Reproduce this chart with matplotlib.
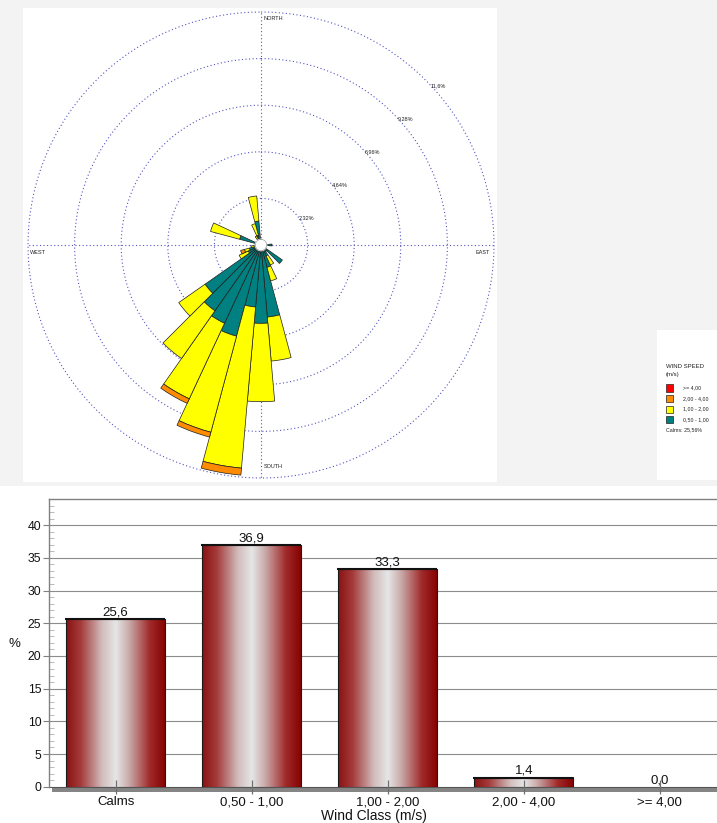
import numpy as np
import matplotlib
matplotlib.use('Agg')
import matplotlib.pyplot as plt
from matplotlib.patches import Rectangle
from matplotlib.colors import LinearSegmentedColormap
from matplotlib.ticker import MultipleLocator
from matplotlib.transforms import blended_transform_factory

plt.rcParams['font.family'] = ['Liberation Sans', 'DejaVu Sans']

# ---------------- data ----------------
directions = list(range(0, 360, 10))
# percent of all observations per direction and wind-speed class
speed_050_100 = [0.25, 0.1, 0.05, 0.05, 0.05, 0.05, 0.05, 0.1, 0.15,
                 0.55, 0.2, 0.2, 0.3, 1.3, 0.4, 0.6, 1.15, 3.6,
                 3.9, 3.1, 4.7, 4.3, 4.0, 3.4, 0.7, 0.6, 0.3, 0.2,
                 0.3, 1.1, 0.3, 0.2, 0.2, 0.3, 0.5, 1.2]
speed_100_200 = [0, 0, 0, 0, 0, 0, 0, 0, 0,
                 0, 0, 0, 0, 0, 0, 0.5, 0.7, 2.2,
                 3.9, 8.05, 4.95, 4.15, 2.9, 1.6, 0.5, 0.25, 0.2, 0,
                 0, 1.5, 0, 0, 0, 0.2, 0.6, 1.25]
speed_200_400 = [0, 0, 0, 0, 0, 0, 0, 0, 0,
                 0, 0, 0, 0, 0, 0, 0, 0, 0,
                 0, 0.35, 0.25, 0.25, 0, 0, 0, 0.2, 0, 0,
                 0, 0, 0, 0, 0, 0, 0, 0]
speed_ge_400 = [0] * 36

ring_values = [2.32, 4.64, 6.96, 9.28, 11.6]
ring_labels = ['2,32%', '4,64%', '6,96%', '9,28%', '11,6%']
legend_labels = ['>= 4,00', '2,00 - 4,00', '1,00 - 2,00', '0,50 - 1,00']
legend_colors = ['#ff0000', '#ff8c00', '#ffff00', '#008080']
calms_text = 'Calms: 25,56%'

wind_classes = ['Calms', '0,50 - 1,00', '1,00 - 2,00', '2,00 - 4,00', '>= 4,00']
class_percent = [25.6, 36.9, 33.3, 1.4, 0.0]

# ---------------- figure ----------------
W, H = 717, 823
fig = plt.figure(figsize=(W / 100, H / 100), dpi=100, facecolor='white')


def fx(x):
    return x / W


def fy(y):
    return 1 - y / H


def frect(x0, y0, x1, y1, **kw):
    fig.patches.append(Rectangle((fx(x0), fy(y1)), fx(x1) - fx(x0), fy(y0) - fy(y1),
                                 transform=fig.transFigure, **kw))


frect(0, 0, W, 486, facecolor='#f3f3f3', edgecolor='none', zorder=-3)
frect(23, 8, 497, 482, facecolor='white', edgecolor='none', zorder=-2)
frect(657, 330, W, 480, facecolor='white', edgecolor='none', zorder=-2)

# ---------------- wind rose ----------------
cx, cy, R = 261, 245, 233
ax = fig.add_axes([fx(cx - R), fy(cy + R), 2 * R / W, 2 * R / H], projection='polar')
ax.set_theta_zero_location('N')
ax.set_theta_direction(-1)
ax.set_ylim(0, ring_values[-1])
ax.set_axis_off()

grid_col = '#5555c0'
tt = np.linspace(0, 2 * np.pi, 721)
for r in ring_values:
    ax.plot(tt, np.full_like(tt, r), ls=(0, (1, 2.2)), color=grid_col, lw=0.8, clip_on=False, zorder=1)
for t in [0, np.pi / 2, np.pi, 3 * np.pi / 2]:
    ax.plot([t, t], [0, ring_values[-1]], ls=(0, (1, 2.2)), color=grid_col, lw=0.8, clip_on=False, zorder=1)

theta = np.deg2rad(directions)
width = np.deg2rad(10)
bottom = np.zeros(len(directions))
for vals, col in [(speed_050_100, '#008080'), (speed_100_200, '#ffff00'),
                  (speed_200_400, '#ff8c00'), (speed_ge_400, '#ff0000')]:
    v = np.array(vals, dtype=float)
    m = v > 0
    if m.any():
        ax.bar(theta[m], v[m], width=width, bottom=bottom[m], color=col,
               edgecolor='#1e1e1e', linewidth=0.5, zorder=3)
    bottom = bottom + v

ax.fill(tt, np.full_like(tt, 0.28), color='white', zorder=5)
ax.plot(tt, np.full_like(tt, 0.28), color='#9a9a9a', lw=0.5, zorder=6)

for r, lab in zip(ring_values, ring_labels):
    ax.annotate(lab, xy=(np.pi / 4, r), xytext=(3.6, -4.3), textcoords='offset points',
                fontsize=4, ha='left', va='center', color='#222222', zorder=7)

fig.text(fx(264), fy(19), 'NORTH', fontsize=4, ha='left', va='center', color='#222222')
fig.text(fx(264), fy(466), 'SOUTH', fontsize=4, ha='left', va='center', color='#222222')
fig.text(fx(30), fy(252), 'WEST', fontsize=4, ha='left', va='center', color='#222222')
fig.text(fx(475), fy(252), 'EAST', fontsize=4, ha='left', va='center', color='#222222')

# legend
fig.text(fx(666), fy(366), 'WIND SPEED', fontsize=4.3, ha='left', va='center', color='#222222')
fig.text(fx(666), fy(375), '(m/s)', fontsize=4.3, ha='left', va='center', color='#222222')
for i, (lab, col) in enumerate(zip(legend_labels, legend_colors)):
    yc = 388 + i * 10.5
    frect(666, yc - 3.5, 673, yc + 3.5, facecolor=col, edgecolor='#222222', linewidth=0.5, zorder=2)
    fig.text(fx(683), fy(yc), lab, fontsize=3.8, ha='left', va='center', color='#222222')
fig.text(fx(666), fy(430), calms_text, fontsize=3.8, ha='left', va='center', color='#222222')

# ---------------- bar chart ----------------
y0, y1 = 786.7, 499
ax2 = fig.add_axes([fx(49), fy(y0), 1 - fx(49), (y0 - y1) / H])
ax2.set_facecolor('white')

cmap = LinearSegmentedColormap.from_list(
    'cyl', [(0, '#8a1212'), (0.15, '#a53c3c'), (0.36, '#d2bcbc'), (0.5, '#e6e6e6'),
            (0.64, '#c9a6a6'), (0.84, '#a02a2a'), (1.0, '#850000')])
grad = np.linspace(0, 1, 256).reshape(1, -1)
half = 0.364
for i, v in enumerate(class_percent):
    if v > 0:
        ax2.imshow(grad, extent=(i - half, i + half, 0, v), aspect='auto', cmap=cmap,
                   interpolation='bilinear', zorder=3)
        ax2.add_patch(Rectangle((i - half, 0), 2 * half, v, fill=False,
                                edgecolor='#1a1a1a', linewidth=0.8, zorder=4))
        ax2.plot([i - half - 0.01, i + half], [v, v], color='#111111', lw=1.5,
                 solid_capstyle='butt', zorder=5)
    ax2.annotate(f'{v:.1f}'.replace('.', ','), xy=(i, v), xytext=(0, 0.5),
                 textcoords='offset points', ha='center', va='bottom', fontsize=9.5,
                 color='#111111', zorder=6)

ax2.set_xlim(-0.49, 4.42)
ax2.set_ylim(0, 44)
for g in range(5, 45, 5):
    ax2.axhline(g, color='#8c8c8c', lw=0.8, zorder=1)

for s in ['right', 'bottom']:
    ax2.spines[s].set_visible(False)
for s in ['top', 'left']:
    ax2.spines[s].set_color('#808080')
    ax2.spines[s].set_linewidth(1.0)

trans = blended_transform_factory(ax2.transAxes, ax2.transData)
ax2.add_patch(Rectangle((0.005, -0.85), 1.0, 0.85, transform=trans, clip_on=False,
                        facecolor='#858585', edgecolor='none', zorder=2))
ax2.plot([0, 1], [0, 0], transform=trans, color='#555555', lw=0.8, clip_on=False, zorder=2)

ax2.set_xticks(range(len(wind_classes)))
ax2.set_xticklabels(wind_classes)
ax2.set_yticks(range(0, 41, 5))
ax2.yaxis.set_minor_locator(MultipleLocator(1))
ax2.tick_params(axis='x', direction='inout', length=9.5, width=0.9, color='#707070',
                labelsize=9.5, pad=2, labelcolor='#111111')
ax2.tick_params(axis='y', which='major', direction='out', length=4, width=0.8,
                color='#808080', labelsize=8.8, pad=1.5, labelcolor='#111111')
ax2.tick_params(axis='y', which='minor', direction='in', length=3.6, width=0.6,
                color='#b0b0b0')
ax2.xaxis.set_zorder(7)

fig.text(fx(14), fy(644), '%', fontsize=9.5, ha='center', va='center', color='#111111')
fig.text(fx(374), fy(816), 'Wind Class (m/s)', fontsize=10, ha='center', va='center', color='#111111')

fig.savefig('out.png', dpi=100, facecolor=fig.get_facecolor())
